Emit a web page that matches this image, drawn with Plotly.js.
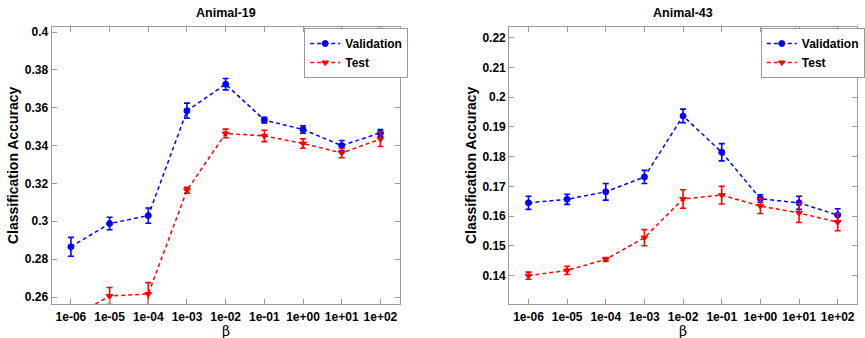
<!DOCTYPE html>
<html>
<head>
<meta charset="utf-8">
<script src="https://cdn.plot.ly/plotly-3.0.1.min.js"></script>
<style>html,body{margin:0;padding:0;background:#fff}#chart{width:865px;height:338px}</style>
</head>
<body>
<div id="chart"></div>
<script>
const betas = ["1e-06","1e-05","1e-04","1e-03","1e-02","1e-01","1e+00","1e+01","1e+02"];

const a19Val    = [0.2865, 0.2988, 0.3030, 0.3584, 0.3724, 0.3535, 0.3485, 0.3400, 0.3467];
const a19ValErr = [0.0050, 0.0033, 0.0040, 0.0040, 0.0030, 0.0015, 0.0020, 0.0027, 0.0018];
const a19Test    = [0.2490, 0.2605, 0.2616, 0.3164, 0.3464, 0.3451, 0.3411, 0.3361, 0.3434];
const a19TestErr = [0.0040, 0.0045, 0.0060, 0.0015, 0.0023, 0.0030, 0.0025, 0.0025, 0.0039];

const a43Val    = [0.1645, 0.1657, 0.1682, 0.1732, 0.1937, 0.1815, 0.1659, 0.1645, 0.1604];
const a43ValErr = [0.0022, 0.0017, 0.0028, 0.0022, 0.0023, 0.0029, 0.0013, 0.0022, 0.0021];
const a43Test    = [0.1400, 0.1418, 0.1455, 0.1528, 0.1658, 0.1671, 0.1634, 0.1611, 0.1580];
const a43TestErr = [0.0012, 0.0014, 0.0006, 0.0027, 0.0031, 0.0030, 0.0025, 0.0032, 0.0029];

const titles = ["Animal-19", "Animal-43"];
const seriesNames = ["Validation", "Test"];
const xTitle = "β";

const BLUE = "#0000ff", RED = "#ff0000", AX = "#9a9a9a";
const FONT = "Liberation Sans, Arial, sans-serif";

function tr(y, err, name, color, sym, xa, ya, leg, show) {
  return {
    x: betas, y: y, name: name, type: "scatter", mode: "lines+markers",
    xaxis: xa, yaxis: ya, legend: leg, showlegend: show,
    line: {color: color, width: 1.5, dash: "4px,3px"},
    marker: {color: color, symbol: sym, size: 6, line: {color: color, width: 1}},
    error_y: {type: "data", array: err, visible: true, color: color, thickness: 1.6, width: 3}
  };
}

const data = [
  tr(a19Val, a19ValErr, seriesNames[0], BLUE, "circle", "x", "y", "legend", true),
  tr(a19Test, a19TestErr, seriesNames[1], RED, "triangle-down", "x", "y", "legend", true),
  tr(a43Val, a43ValErr, seriesNames[0], BLUE, "circle", "x2", "y2", "legend2", true),
  tr(a43Test, a43TestErr, seriesNames[1], RED, "triangle-down", "x2", "y2", "legend2", true)
];

const W = 865, H = 338;
const plotTop = 26.7, plotBot = 304;
const yd = [1 - plotBot / H, 1 - plotTop / H];

function xax(l, r) {
  return {
    domain: [l / W, r / W], type: "category", range: [-0.5, 8.5],
    showline: true, linecolor: AX, linewidth: 1, mirror: "ticks",
    ticks: "inside", ticklen: 5, tickcolor: AX, showgrid: false, zeroline: false,
    ticklabelstandoff: 2,
    tickfont: {family: FONT, size: 12, color: "#000", weight: "bold"},
    automargin: false
  };
}
function yax(anchor, range, tick0, dtick) {
  return {
    domain: yd, anchor: anchor, range: range, tick0: tick0, dtick: dtick,
    showline: true, linecolor: AX, linewidth: 1, mirror: "ticks",
    ticks: "inside", ticklen: 5, tickcolor: AX, showgrid: false, zeroline: false,
    tickfont: {family: FONT, size: 12, color: "#000", weight: "bold"},
    title: {text: "Classification Accuracy", font: {family: FONT, size: 14, color: "#000", weight: "bold"}, standoff: 2},
    automargin: false
  };
}

const legendStyle = (x) => ({
  x: x, y: 1 - 28 / H, xref: "paper", yref: "paper", xanchor: "left", yanchor: "top",
  bgcolor: "#fff", bordercolor: AX, borderwidth: 1,
  font: {family: FONT, size: 12, color: "#000", weight: "bold"},
  tracegroupgap: 0, itemwidth: 30
});

const ann = (text, x, y, font) => ({text: text, x: x / W, y: 1 - y / H, xref: "paper", yref: "paper",
  xanchor: "center", yanchor: "middle", showarrow: false, font: font});
const titleFont = {family: FONT, size: 12.5, color: "#000", weight: "bold"};
const betaFont = {family: "DejaVu Serif, serif", size: 14, color: "#000"};

const layout = {
  width: W, height: H, margin: {l: 0, r: 0, t: 0, b: 0},
  paper_bgcolor: "#fff", plot_bgcolor: "#fff",
  xaxis: Object.assign(xax(52, 403), {anchor: "y"}),
  yaxis: yax("x", [0.2563, 0.4028], 0.26, 0.02),
  xaxis2: Object.assign(xax(513.3, 864), {anchor: "y2"}),
  yaxis2: yax("x2", [0.1305, 0.2237], 0.14, 0.01),
  legend: legendStyle(306.7 / W),
  legend2: legendStyle(767 / W),
  annotations: [
    ann(titles[0], 227.5, 13, titleFont),
    ann(titles[1], 688.7, 13, titleFont),
    ann(xTitle, 227.5, 331, betaFont),
    ann(xTitle, 688.7, 331, betaFont)
  ]
};

Plotly.newPlot("chart", data, layout, {displayModeBar: false, staticPlot: true});
</script>
</body>
</html>
